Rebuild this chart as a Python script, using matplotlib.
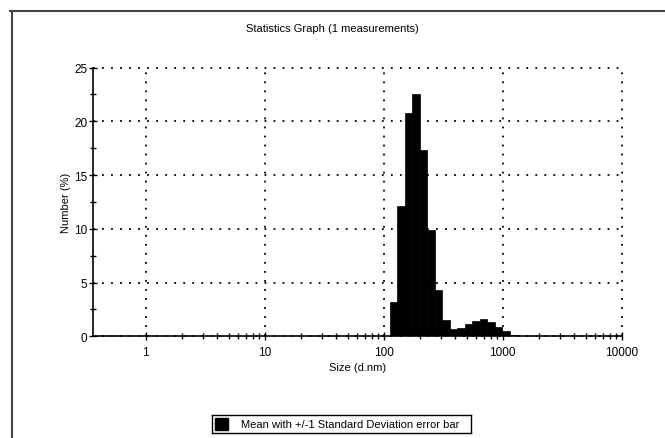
import numpy as np
import matplotlib
matplotlib.use("Agg")
import matplotlib.pyplot as plt
from matplotlib.lines import Line2D
from matplotlib.patches import Rectangle

plt.rcParams['font.family'] = ['Liberation Sans', 'DejaVu Sans']

# Malvern size classes (0.4 - 10000 nm, 70 log bins), bins 39..56 are non-zero
bin_index = np.arange(39, 57)
number_pct = [3.2, 12.1, 20.8, 22.5, 17.3, 9.9, 4.3, 1.55, 0.7, 0.8,
              1.15, 1.45, 1.6, 1.3, 0.9, 0.45, 0.15, 0.03]
y_ticks = [0, 5, 10, 15, 20, 25]
x_ticks = [1, 10, 100, 1000, 10000]
x_ticklabels = ['1', '10', '100', '1000', '10000']

ratio = 10 ** (np.log10(10000 / 0.4) / 70)
left_edges = 0.4 * ratio ** bin_index
widths = left_edges * (ratio - 1)

fig = plt.figure(figsize=(6.65, 4.39), dpi=100)
ax = fig.add_axes([93 / 665, 1 - 337.3 / 439, 529 / 665, 268.8 / 439])

ax.bar(left_edges, number_pct, width=widths, align='edge', color='black',
       edgecolor='black', linewidth=0.5, zorder=3)

ax.set_xscale('log')
ax.set_xlim(0.36, 10050)
ax.set_ylim(0, 25)
ax.set_xticks(x_ticks)
ax.set_xticklabels(x_ticklabels)
ax.set_yticks(y_ticks)
ax.set_yticks([2.5, 7.5, 12.5, 17.5, 22.5], minor=True)
# minor ticks only from 1 upward (none below 1 in the original)
minor_x = [d * m for d in [1, 10, 100, 1000] for m in range(2, 10)]
ax.xaxis.set_minor_locator(matplotlib.ticker.FixedLocator(minor_x))
ax.xaxis.set_minor_formatter(matplotlib.ticker.NullFormatter())

ax.tick_params(which='major', direction='inout', length=6, width=1, labelsize=8.5, colors='black')
ax.tick_params(which='minor', direction='inout', length=5, width=1)
ax.tick_params(axis='y', which='major', pad=1)
ax.tick_params(axis='x', which='major', pad=4)

for s in ['top', 'right']:
    ax.spines[s].set_visible(False)
for s in ['left', 'bottom']:
    ax.spines[s].set_linewidth(1.2)

ax.grid(True, which='major', color='black', linestyle=(0, (1, 4)), linewidth=1.3)
for gl in ax.get_xgridlines() + ax.get_ygridlines():
    gl.set_clip_on(False)
ax.set_axisbelow(True)

ax.set_xlabel('Size (d.nm)', fontsize=8, labelpad=3)
ax.set_ylabel('Number (%)', fontsize=8, labelpad=2)

fig.text(0.5, 1 - 29 / 439, 'Statistics Graph (1 measurements)', ha='center', va='center', fontsize=8)

# outer frame (top and left only)
fig.add_artist(Line2D([10 / 665, 1], [1 - 12 / 439, 1 - 12 / 439], color='#444444', lw=1.5))
fig.add_artist(Line2D([11.5 / 665, 11.5 / 665], [0, 1 - 12 / 439], color='#444444', lw=1.5))

# legend box, text cut off at the right edge as in the original
lax = fig.add_axes([212 / 665, 1 - 434 / 439, 259 / 665, 18 / 439])
lax.set_xlim(0, 259)
lax.set_ylim(0, 18)
lax.set_xticks([])
lax.set_yticks([])
for s in lax.spines.values():
    s.set_linewidth(1)
lax.add_patch(Rectangle((3, 3), 13, 12, color='black'))
lax.text(29, 9, 'Mean with +/-1 Standard Deviation error bar', fontsize=8,
         va='center', ha='left', clip_on=True)

fig.savefig('out.png', dpi=100)
